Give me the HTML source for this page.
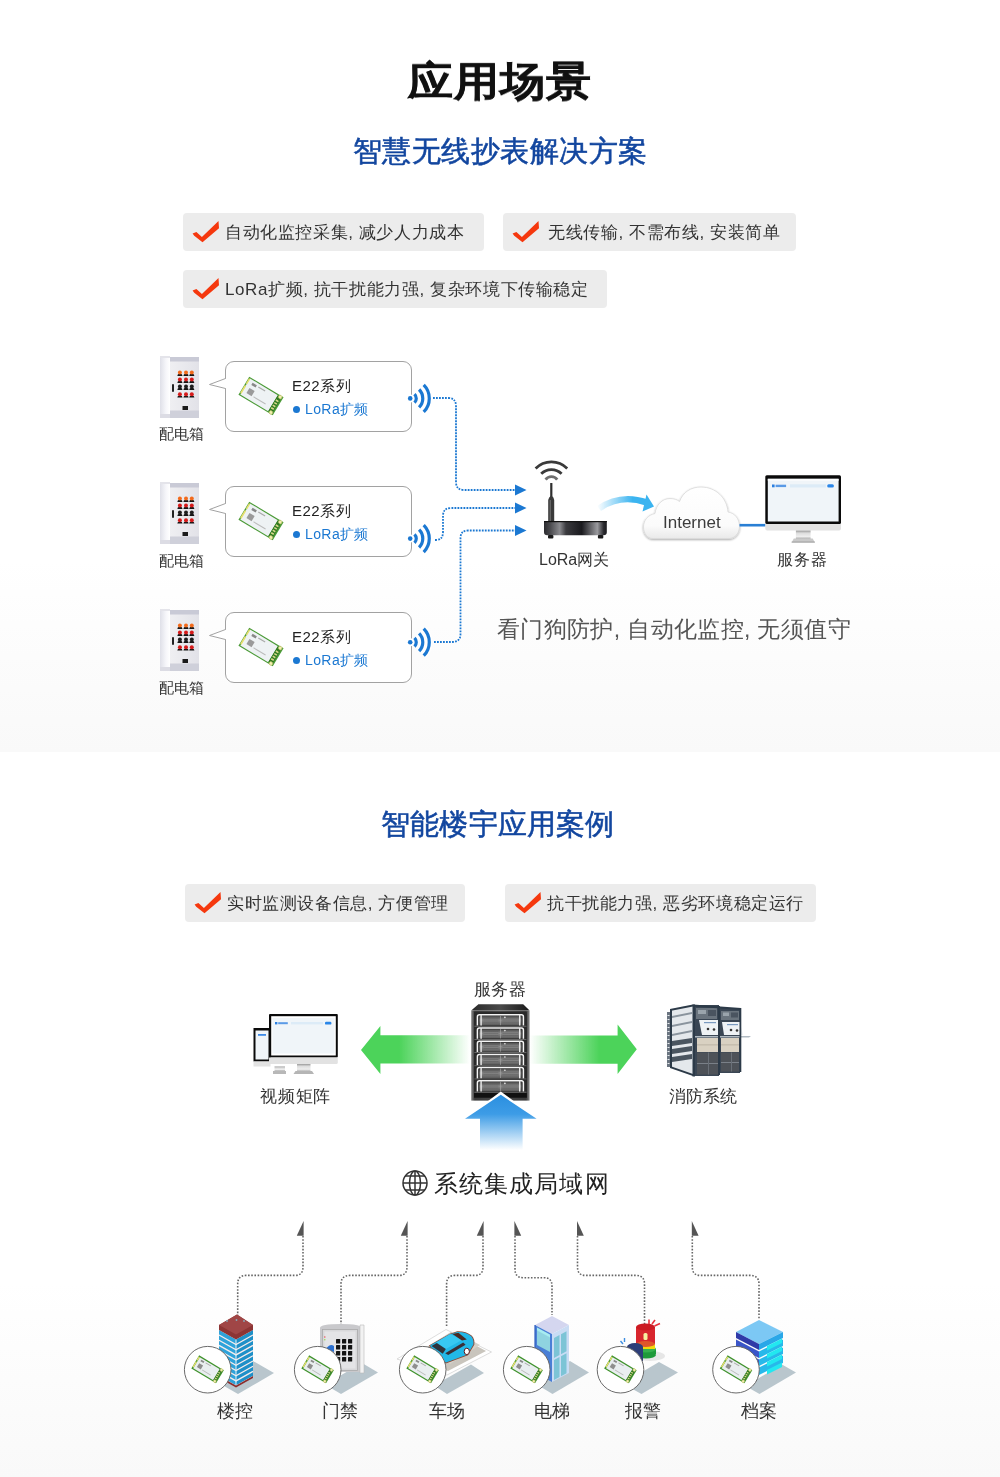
<!DOCTYPE html>
<html><head><meta charset="utf-8">
<style>
html,body{margin:0;padding:0;}
body{width:1000px;height:1477px;position:relative;overflow:hidden;background:#fff;font-family:"Liberation Sans",sans-serif;}
.bg1{position:absolute;left:0;top:0;width:1000px;height:752px;background:linear-gradient(to bottom,#fff 0,#fff 560px,#f9f9f9 752px);}
.bg2{position:absolute;left:0;top:752px;width:1000px;height:725px;background:linear-gradient(to bottom,#fff 0,#fff 530px,#f9f9f9 725px);}
.t{position:absolute;white-space:nowrap;line-height:1;will-change:transform;}
.pill{position:absolute;height:38px;background:#ececec;border-radius:4px;}
.pill svg{position:absolute;left:9px;top:8px;}
.pill span{will-change:transform;position:absolute;left:42px;top:11px;font-size:17px;letter-spacing:0.6px;line-height:17px;color:#333;white-space:nowrap;}
.bub{position:absolute;left:225px;width:185px;height:69px;border:1px solid #a2a2a2;border-radius:9px;background:#fff;}
svg.full{position:absolute;left:0;top:0;}
</style></head><body>
<div class="bg1"></div><div class="bg2"></div>

<div class="t" style="left:408px;top:61px;font-size:45px;letter-spacing:1px;transform:scaleY(0.9);transform-origin:0 0;font-weight:bold;color:#111;-webkit-text-stroke:0.5px #111;">应用场景</div>
<div class="t" style="left:353px;top:137px;font-size:29px;letter-spacing:0.45px;font-weight:normal;-webkit-text-stroke:0.55px #12469f;color:#12469f;">智慧无线抄表解决方案</div>

<div class="pill" style="left:183px;top:213px;width:301px;"><svg width="28" height="24" viewBox="0 0 28 24"><path d="M0.6 12.6 L4.4 11 L9.9 16 L26.5 0 L27 7.2 L10.5 21.2 L2.2 14.7 Z" fill="#f5380e"/></svg><span>自动化监控采集, 减少人力成本</span></div>
<div class="pill" style="left:503px;top:213px;width:293px;"><svg width="28" height="24" viewBox="0 0 28 24"><path d="M0.6 12.6 L4.4 11 L9.9 16 L26.5 0 L27 7.2 L10.5 21.2 L2.2 14.7 Z" fill="#f5380e"/></svg><span style="left:45px">无线传输, 不需布线, 安装简单</span></div>
<div class="pill" style="left:183px;top:270px;width:424px;"><svg width="28" height="24" viewBox="0 0 28 24"><path d="M0.6 12.6 L4.4 11 L9.9 16 L26.5 0 L27 7.2 L10.5 21.2 L2.2 14.7 Z" fill="#f5380e"/></svg><span>LoRa扩频, 抗干扰能力强, 复杂环境下传输稳定</span></div>

<div class="t" style="left:381px;top:810px;font-size:29px;letter-spacing:0.2px;font-weight:normal;-webkit-text-stroke:0.55px #12469f;color:#12469f;">智能楼宇应用案例</div>
<div class="pill" style="left:185px;top:884px;width:280px;"><svg width="28" height="24" viewBox="0 0 28 24"><path d="M0.6 12.6 L4.4 11 L9.9 16 L26.5 0 L27 7.2 L10.5 21.2 L2.2 14.7 Z" fill="#f5380e"/></svg><span>实时监测设备信息, 方便管理</span></div>
<div class="pill" style="left:505px;top:884px;width:311px;"><svg width="28" height="24" viewBox="0 0 28 24"><path d="M0.6 12.6 L4.4 11 L9.9 16 L26.5 0 L27 7.2 L10.5 21.2 L2.2 14.7 Z" fill="#f5380e"/></svg><span>抗干扰能力强, 恶劣环境稳定运行</span></div>

<div class="bub" style="top:361px;"></div>
<div class="bub" style="top:486px;"></div>
<div class="bub" style="top:612px;"></div>

<svg class="full" width="1000" height="1477" viewBox="0 0 1000 1477">
<defs>
  <linearGradient id="cabL" x1="0" x2="1"><stop offset="0" stop-color="#dfe0e8"/><stop offset="0.6" stop-color="#f6f6fa"/><stop offset="1" stop-color="#ffffff"/></linearGradient>
  <linearGradient id="cabF" x1="0" x2="1"><stop offset="0" stop-color="#efeff2"/><stop offset="1" stop-color="#e2e2e8"/></linearGradient>
  <g id="cab">
    <rect x="0" y="0" width="10" height="62" fill="url(#cabL)"/>
    <rect x="10" y="1" width="29" height="61" fill="url(#cabF)"/>
    <rect x="10" y="1" width="29" height="4.5" fill="#c9cad6"/>
    <rect x="0" y="0" width="10" height="2" fill="#e4e4ea"/>
    <rect x="10" y="54.5" width="29" height="7.5" fill="#cfd0da"/>
    <rect x="0" y="58" width="10" height="4" fill="#dcdce4"/>
    <g fill="#151515"><path d="M17.3 20.0 Q17.3 17.8 19.9 17.8 Q22.5 17.8 22.5 20.0 Z"/><path d="M23.4 20.0 Q23.4 17.8 26.0 17.8 Q28.6 17.8 28.6 20.0 Z"/><path d="M29.2 20.0 Q29.2 17.8 31.8 17.8 Q34.4 17.8 34.4 20.0 Z"/><path d="M17.3 27.0 Q17.3 24.8 19.9 24.8 Q22.5 24.8 22.5 27.0 Z"/><path d="M23.4 27.0 Q23.4 24.8 26.0 24.8 Q28.6 24.8 28.6 27.0 Z"/><path d="M29.2 27.0 Q29.2 24.8 31.8 24.8 Q34.4 24.8 34.4 27.0 Z"/><path d="M17.3 34.0 Q17.3 31.8 19.9 31.8 Q22.5 31.8 22.5 34.0 Z"/><path d="M23.4 34.0 Q23.4 31.8 26.0 31.8 Q28.6 31.8 28.6 34.0 Z"/><path d="M29.2 34.0 Q29.2 31.8 31.8 31.8 Q34.4 31.8 34.4 34.0 Z"/><path d="M17.3 41.6 Q17.3 39.4 19.9 39.4 Q22.5 39.4 22.5 41.6 Z"/><path d="M23.4 41.6 Q23.4 39.4 26.0 39.4 Q28.6 39.4 28.6 41.6 Z"/><path d="M29.2 41.6 Q29.2 39.4 31.8 39.4 Q34.4 39.4 34.4 41.6 Z"/></g>
    <g fill="#f26a1b"><circle cx="19.9" cy="16.6" r="2"/><circle cx="26.0" cy="16.6" r="2"/><circle cx="31.8" cy="16.6" r="2"/></g><g fill="#d61a1a"><circle cx="19.9" cy="23.6" r="2"/><circle cx="26.0" cy="23.6" r="2"/><circle cx="31.8" cy="23.6" r="2"/></g><g fill="#1e1e1e"><circle cx="19.9" cy="30.6" r="2"/><circle cx="26.0" cy="30.6" r="2"/><circle cx="31.8" cy="30.6" r="2"/></g><g fill="#d61a1a"><circle cx="19.9" cy="38.2" r="2"/><circle cx="26.0" cy="38.2" r="2"/><circle cx="31.8" cy="38.2" r="2"/></g>
    <rect x="12" y="28" width="2" height="8" rx="1" fill="#222"/>
    <rect x="22.5" y="50" width="5.5" height="4" fill="#1a1a1a"/>
  </g>
  <g id="chip">
    <rect x="-20" y="-10.5" width="40" height="21" fill="#4a9a36"/>
    <rect x="-18.5" y="-9.4" width="32.5" height="18.8" fill="#eef2f4"/>
    <rect x="14" y="-9" width="4.5" height="18" fill="#2f7a22"/>
    <g fill="#d9d98a"><rect x="14.8" y="-5" width="3" height="1.6"/><rect x="14.8" y="-2" width="3" height="1.6"/><rect x="14.8" y="1" width="3" height="1.6"/><rect x="14.8" y="4" width="3" height="1.6"/></g>
    <circle cx="17" cy="-9" r="1.8" fill="#f0f0b0" stroke="#b8b860" stroke-width="0.6"/>
    <circle cx="17" cy="9" r="1.8" fill="#f0f0b0" stroke="#b8b860" stroke-width="0.6"/>
    <rect x="-19.5" y="-9" width="1.6" height="6" fill="#e8e070"/><rect x="-19.5" y="-1" width="1.6" height="9" fill="#e8e070"/>
    <rect x="-14" y="-1" width="6" height="6" fill="#9a9a9a"/>
    <rect x="-14" y="-7" width="5" height="2.5" fill="#888"/>
    <rect x="-7" y="-7" width="8" height="1.2" fill="#aaa"/>
    <rect x="-6" y="4" width="14" height="1" fill="#bbb"/>
  </g>
  <g id="wifi" fill="none" stroke-linecap="butt">
    <g stroke="#fff" stroke-width="6"><path d="M4.3 -4.3 A6.1 6.1 0 0 1 4.3 4.3"/><path d="M8.9 -8.9 A12.6 12.6 0 0 1 8.9 8.9"/><path d="M13.5 -13.5 A19.1 19.1 0 0 1 13.5 13.5"/></g>
    <circle cx="0" cy="0" r="4" fill="#fff" stroke="none"/>
    <circle cx="0" cy="0" r="2.3" fill="#1b78d2" stroke="none"/>
    <g stroke="#1b78d2" stroke-width="3.2"><path d="M4.3 -4.3 A6.1 6.1 0 0 1 4.3 4.3"/><path d="M8.9 -8.9 A12.6 12.6 0 0 1 8.9 8.9"/><path d="M13.5 -13.5 A19.1 19.1 0 0 1 13.5 13.5"/></g>
  </g>

  <linearGradient id="rtBody" x1="0" x2="1">
    <stop offset="0" stop-color="#2a2a2e"/><stop offset="0.1" stop-color="#4a4a4e"/><stop offset="0.25" stop-color="#8a8a8e"/><stop offset="0.35" stop-color="#3a3a3e"/><stop offset="0.6" stop-color="#1a1a1e"/><stop offset="0.85" stop-color="#9a9a9e"/><stop offset="0.95" stop-color="#2a2a2e"/><stop offset="1" stop-color="#1a1a1e"/>
  </linearGradient>
  <linearGradient id="arrBlue" x1="0" x2="1"><stop offset="0" stop-color="#3bb4f0" stop-opacity="0"/><stop offset="0.7" stop-color="#3bb4f0" stop-opacity="1"/></linearGradient>
  <linearGradient id="cloudF" x1="0" y1="0" x2="0" y2="1"><stop offset="0" stop-color="#ffffff"/><stop offset="0.75" stop-color="#fbfbfb"/><stop offset="1" stop-color="#e9e9e9"/></linearGradient>
  <linearGradient id="standG" x1="0" y1="0" x2="0" y2="1"><stop offset="0" stop-color="#999"/><stop offset="0.3" stop-color="#ddd"/><stop offset="0.7" stop-color="#eee"/><stop offset="1" stop-color="#aaa"/></linearGradient>
  <filter id="cshadow" x="-20%" y="-20%" width="140%" height="150%"><feGaussianBlur in="SourceAlpha" stdDeviation="1.2"/><feOffset dy="1.2"/><feComponentTransfer><feFuncA type="linear" slope="0.35"/></feComponentTransfer><feMerge><feMergeNode/><feMergeNode in="SourceGraphic"/></feMerge></filter>
  <g id="mon">
    <rect x="0" y="0" width="75.7" height="48.6" rx="1.5" fill="#0a0a0a"/>
    <rect x="2.5" y="3.5" width="70.8" height="42.7" fill="#f0f5f9"/>
    <rect x="2.5" y="3.5" width="70.8" height="2" fill="#fafcfd"/>
    <rect x="6.7" y="9.2" width="2.6" height="2.8" fill="#2a7fe0"/><rect x="10.3" y="9.4" width="10.5" height="2.4" fill="#5a9ae6"/>
    <rect x="24.7" y="9" width="35.8" height="3.2" fill="#dcebf7"/>
    <rect x="61.9" y="9" width="6.7" height="3.2" rx="1.5" fill="#2a86e8"/>
    <path d="M0 48.6 H75.7 V53.5 Q75.7 55.3 73.9 55.3 H1.8 Q0 55.3 0 53.5 Z" fill="#e2e2e2"/>
    <rect x="30.6" y="55.3" width="14.7" height="8.4" fill="url(#standG)"/>
    <path d="M28.5 63.3 H47.4 L49.6 67.1 H26.3 Z" fill="#c9c9c9"/>
    <rect x="26.3" y="66.3" width="23.3" height="0.9" fill="#9a9a9a"/>
  </g>
</defs>

<!-- cabinets -->
<use href="#cab" x="160" y="356"/>
<use href="#cab" x="160" y="482"/>
<use href="#cab" x="160" y="609"/>

<!-- bubble tails -->
<g fill="#fff" stroke="#a2a2a2" stroke-width="1">
  <path d="M225.5 378.5 L209.5 384.5 L225.5 388.5"/>
  <path d="M225.5 503.5 L209.5 509.5 L225.5 513.5"/>
  <path d="M225.5 629.5 L209.5 635.5 L225.5 639.5"/>
</g>
<g fill="#fff"><rect x="225" y="379" width="2" height="9"/><rect x="225" y="504" width="2" height="9"/><rect x="225" y="630" width="2" height="9"/></g>

<!-- chips -->
<use href="#chip" transform="translate(261 396) rotate(31)"/>
<use href="#chip" transform="translate(261 521) rotate(31)"/>
<use href="#chip" transform="translate(261 647) rotate(31)"/>

<!-- blue dots -->
<g fill="#1b78d2"><circle cx="296.5" cy="409.5" r="3.5"/><circle cx="296.5" cy="534.5" r="3.5"/><circle cx="296.5" cy="660.5" r="3.5"/></g>

<!-- wifi icons -->
<use href="#wifi" x="410.2" y="398.4"/>
<use href="#wifi" x="410.2" y="538.6"/>
<use href="#wifi" x="410.2" y="642.2"/>

<!-- dotted lines -->
<g fill="none" stroke="#1b78d2" stroke-width="1.8" stroke-dasharray="1.8 1.2">
  <path d="M433 398 H448 Q456 398 456 406 V482 Q456 490 464 490 H515"/>
  <path d="M435 540 H436 Q443 540 443 532 V516 Q443 508 451 508 H515"/>
  <path d="M434 642 H452 Q460.5 642 460.5 634 V538 Q460.5 530.5 468 530.5 H515"/>
</g>
<g fill="#1b78d2">
  <path d="M515 484.5 L526.5 490 L515 495.5 Z"/>
  <path d="M515 502.5 L526.5 508 L515 513.5 Z"/>
  <path d="M515 525 L526.5 530.5 L515 536 Z"/>
</g>

<!-- router -->
<g fill="none" stroke-linecap="butt">
  <path d="M535.6 468.4 A22.3 22.3 0 0 1 567.2 468.4" stroke="#3a3a3a" stroke-width="2.8"/>
  <path d="M541.2 473.8 A14.4 14.4 0 0 1 561.6 473.8" stroke="#3a3a3a" stroke-width="2.8"/>
  <path d="M545.6 479.6 A7.1 7.1 0 0 1 557.2 479.6" stroke="#6e6e6e" stroke-width="2.8"/>
</g>
<rect x="550.2" y="483" width="2.2" height="16" fill="#2e2e2e"/>
<path d="M548.2 500 Q548.6 497 551.3 495.5 Q554 497 554.2 500 V521.5 H548.2 Z" fill="#3a3a3a"/>
<rect x="549.6" y="500" width="1.3" height="21" fill="#6a6a6a"/>
<path d="M544 521 H606.8 V532 Q606.8 535.2 603.6 535.2 H547.2 Q544 535.2 544 532 Z" fill="url(#rtBody)"/>
<rect x="544" y="521" width="62.8" height="1.2" fill="#111"/>
<rect x="548" y="535" width="5.4" height="3.6" rx="1" fill="#1a1a1a"/>
<rect x="597.9" y="535" width="5.4" height="3.6" rx="1" fill="#1a1a1a"/>

<!-- blue curved arrow -->
<path d="M597 506 Q620 490 648 499.5 L645.5 505.5 Q621 497 601 511 Z" fill="url(#arrBlue)"/>
<path d="M646.5 494.5 L654 506.5 L642.5 511.5 Z" fill="#3bb4f0"/>

<!-- cloud -->
<g filter="url(#cshadow)">
<path d="M653 538.5 C647 538.5 643.5 533 643.5 527 C643.5 520 648 515 655 513.5 C656 505 662 498.5 670 498.5 C674 498.5 677 499.5 679.5 501.5 C683 492 691 487 701 487 C716 487 727 498 728 512 C735 513 739.5 519 739.5 526.5 C739.5 533 735 538.5 729 538.5 Z" fill="url(#cloudF)" stroke="#d9d9d9" stroke-width="0.8"/>
</g>
<rect x="739.5" y="523.9" width="26" height="2.6" fill="#2a7fd4"/>
<use href="#mon" x="765.3" y="475.3"/>
</svg>

<div class="t" style="left:159px;top:426px;font-size:15px;color:#333;">配电箱</div>
<div class="t" style="left:159px;top:553px;font-size:15px;color:#333;">配电箱</div>
<div class="t" style="left:159px;top:680px;font-size:15px;color:#333;">配电箱</div>
<div class="t" style="left:292px;top:378px;font-size:15px;letter-spacing:0.5px;color:#222;">E22系列</div>
<div class="t" style="left:292px;top:503px;font-size:15px;letter-spacing:0.5px;color:#222;">E22系列</div>
<div class="t" style="left:292px;top:629px;font-size:15px;letter-spacing:0.5px;color:#222;">E22系列</div>
<div class="t" style="left:305px;top:402px;font-size:14px;letter-spacing:0.4px;color:#1b78d2;">LoRa扩频</div>
<div class="t" style="left:305px;top:527px;font-size:14px;letter-spacing:0.4px;color:#1b78d2;">LoRa扩频</div>
<div class="t" style="left:305px;top:653px;font-size:14px;letter-spacing:0.4px;color:#1b78d2;">LoRa扩频</div>

<div class="t" style="left:663px;top:514px;font-size:17px;color:#3c3c3c;">Internet</div>
<div class="t" style="left:539px;top:552px;font-size:16px;color:#333;">LoRa网关</div>
<div class="t" style="left:777px;top:552px;font-size:16px;letter-spacing:0.8px;color:#333;">服务器</div>
<div class="t" style="left:497px;top:618px;font-size:23px;letter-spacing:0.35px;color:#555;">看门狗防护, 自动化监控, 无须值守</div>

<svg class="full" width="1000" height="1477" viewBox="0 0 1000 1477">
<defs>
  <linearGradient id="grL" x1="0" x2="1"><stop offset="0" stop-color="#4cd35a"/><stop offset="0.35" stop-color="#4cd35a"/><stop offset="1" stop-color="#4cd35a" stop-opacity="0"/></linearGradient>
  <linearGradient id="grR" x1="0" x2="1"><stop offset="0" stop-color="#4cd35a" stop-opacity="0"/><stop offset="0.65" stop-color="#4cd35a"/><stop offset="1" stop-color="#4cd35a"/></linearGradient>
  <linearGradient id="blU" x1="0" y1="0" x2="0" y2="1"><stop offset="0" stop-color="#2a8fe0"/><stop offset="0.35" stop-color="#3d9ce6"/><stop offset="1" stop-color="#3d9ce6" stop-opacity="0"/></linearGradient>
  <linearGradient id="rackFrame" x1="0" x2="1"><stop offset="0" stop-color="#8a8a8a"/><stop offset="0.06" stop-color="#3a3a3a"/><stop offset="0.5" stop-color="#4a4a4a"/><stop offset="0.94" stop-color="#3a3a3a"/><stop offset="1" stop-color="#8a8a8a"/></linearGradient>
  <linearGradient id="rackTop" x1="0" x2="1"><stop offset="0" stop-color="#2a2a2a"/><stop offset="0.5" stop-color="#4a4a4a"/><stop offset="1" stop-color="#1a1a1a"/></linearGradient>
  <linearGradient id="driveG" x1="0" y1="0" x2="0" y2="1"><stop offset="0" stop-color="#4a4a4a"/><stop offset="0.45" stop-color="#8a8a8a"/><stop offset="1" stop-color="#5a5a5a"/></linearGradient>
  <g id="drive">
    <rect x="0" y="0" width="52" height="12.6" fill="#2a2a2a"/>
    <rect x="5" y="2.2" width="42" height="9.2" fill="url(#driveG)"/>
    <g fill="#5a5a5a"><rect x="9" y="4" width="15" height="0.5"/><rect x="9" y="6" width="15" height="0.5"/><rect x="9" y="8" width="15" height="0.5"/><rect x="28" y="6" width="16" height="0.5"/><rect x="28" y="8" width="16" height="0.5"/></g>
    <path d="M3 11.8 V3 Q3 1 5 1 H47 Q49 1 49 3 V11.8" fill="none" stroke="#f4f4f4" stroke-width="1.5"/>
    <rect x="6" y="1" width="1.4" height="10.8" fill="#eaeaea"/>
    <rect x="44.6" y="1" width="1.4" height="10.8" fill="#eaeaea"/>
    <rect x="25.8" y="2" width="0.6" height="9.4" fill="#aaa"/>
    <circle cx="30.5" cy="3.6" r="0.8" fill="#eee"/>
    <rect x="0" y="12" width="52" height="0.8" fill="#777"/>
  </g>
  <g id="chipS">
    <rect x="-14.4" y="-7.6" width="28.8" height="15.2" fill="#3f922c"/>
    <rect x="-12.9" y="-6.4" width="23.4" height="12.8" fill="#e9eef0"/>
    <rect x="10.3" y="-6.4" width="3" height="12.8" fill="#2f7a22"/>
    <g fill="#d9d98a"><rect x="10.8" y="-3.6" width="2" height="1.2"/><rect x="10.8" y="-1.4" width="2" height="1.2"/><rect x="10.8" y="0.8" width="2" height="1.2"/><rect x="10.8" y="3" width="2" height="1.2"/></g>
    <circle cx="12.3" cy="-6.5" r="1.4" fill="#f0f0b0" stroke="#b8b860" stroke-width="0.5"/>
    <circle cx="12.3" cy="6.5" r="1.4" fill="#f0f0b0" stroke="#b8b860" stroke-width="0.5"/>
    <rect x="-14.2" y="-6.4" width="1.3" height="4.2" fill="#e8e070"/><rect x="-14.2" y="-0.8" width="1.3" height="6.4" fill="#e8e070"/>
    <rect x="-10.3" y="-0.9" width="4.5" height="4.5" fill="#8e8e8e"/>
    <rect x="-10.3" y="-5" width="3.6" height="1.8" fill="#888"/>
    <rect x="-5" y="-5" width="6" height="0.9" fill="#aaa"/>
    <rect x="-4.4" y="3" width="10" height="0.8" fill="#bbb"/>
  </g>
  <g id="arrHeadR"><path d="M0 0 V14.8 H-6.8 Z" fill="#555"/></g>
  <g id="arrHeadL"><path d="M0 0 V14.8 H6.8 Z" fill="#555"/></g>
</defs>

<!-- video monitors -->
<rect x="253.5" y="1028" width="17" height="33.5" fill="#0a0a0a"/>
<rect x="255.5" y="1030.5" width="13" height="29" fill="#f0f5f9"/>
<rect x="258" y="1034" width="8" height="1.8" fill="#3d8ae8"/>
<rect x="253.5" y="1061.5" width="17" height="5" fill="#e2e2e2"/>
<rect x="274.5" y="1066.5" width="10.5" height="4.5" fill="url(#standG)"/>
<rect x="273" y="1071" width="13" height="3" fill="#b8b8b8"/>
<rect x="269" y="1014" width="68.8" height="43.5" rx="1" fill="#0a0a0a"/>
<rect x="271.2" y="1016.2" width="64.6" height="39.3" fill="#fff"/>
<rect x="272.5" y="1018" width="62" height="35.5" fill="#f0f5f9"/>
<rect x="275" y="1022" width="2.4" height="2.4" fill="#2a7fe0"/><rect x="278.2" y="1022.2" width="9.6" height="2" fill="#5a9ae6"/>
<rect x="291" y="1022" width="32" height="2.4" fill="#dcebf7"/>
<rect x="325" y="1021.8" width="6.4" height="2.8" rx="1.2" fill="#2a86e8"/>
<path d="M269 1057.5 H337.8 V1062.5 Q337.8 1064 336.3 1064 H270.5 Q269 1064 269 1062.5 Z" fill="#e2e2e2"/>
<rect x="297" y="1064" width="13.5" height="7.5" fill="url(#standG)"/>
<path d="M295.5 1071 H312 L314 1074 H293.5 Z" fill="#b5b5b5"/>

<!-- green arrows -->
<path d="M361 1050 L380.4 1026 V1035.3 H470 V1063.6 H380.4 V1074 Z" fill="url(#grL)"/>
<path d="M636.8 1049.2 L617.6 1024.4 V1035.6 H530 V1063.8 H617.6 V1074 Z" fill="url(#grR)"/>

<!-- server rack -->
<path d="M478.4 1004.2 H523.2 L529.6 1010.6 H471.2 Z" fill="url(#rackTop)"/>
<rect x="471.2" y="1010.6" width="58.4" height="90" fill="url(#rackFrame)"/>
<rect x="474" y="1012" width="52.8" height="86" fill="#2a2a2a"/>
<use href="#drive" x="474.4" y="1013.8"/>
<use href="#drive" x="474.4" y="1027"/>
<use href="#drive" x="474.4" y="1040.2"/>
<use href="#drive" x="474.4" y="1053.4"/>
<use href="#drive" x="474.4" y="1066.6"/>
<use href="#drive" x="474.4" y="1079.8"/>
<rect x="474" y="1093" width="52.8" height="4.5" fill="#111"/>

<!-- blue up arrow -->
<path d="M500.8 1091.5 L540.5 1121 H525.5 V1152 H477 V1121 H461 Z" fill="#fff"/>
<path d="M500.8 1094.8 L536.6 1118.8 H522.6 V1150 H480 V1118.8 H465 Z" fill="url(#blU)"/>

<!-- fire system rack -->
<g>
  <!-- left cable ladder -->
  <rect x="667" y="1012" width="3" height="55" fill="#6a7480"/>
  <g fill="#e8ecef"><rect x="667.5" y="1015" width="2" height="1"/><rect x="667.5" y="1019" width="2" height="1"/><rect x="667.5" y="1023" width="2" height="1"/><rect x="667.5" y="1027" width="2" height="1"/><rect x="667.5" y="1031" width="2" height="1"/><rect x="667.5" y="1035" width="2" height="1"/><rect x="667.5" y="1039" width="2" height="1"/><rect x="667.5" y="1043" width="2" height="1"/><rect x="667.5" y="1047" width="2" height="1"/><rect x="667.5" y="1051" width="2" height="1"/><rect x="667.5" y="1055" width="2" height="1"/><rect x="667.5" y="1059" width="2" height="1"/><rect x="667.5" y="1063" width="2" height="1"/></g>
  <!-- left side -->
  <path d="M670 1009 L693 1004.5 V1076 L670 1067 Z" fill="#e4e8ec"/>
  <g fill="#8a949e">
    <path d="M672 1016 L692 1012 V1014 L672 1018 Z"/><path d="M672 1025 L692 1021 V1023 L672 1027 Z"/><path d="M672 1034 L692 1030 V1032 L672 1036 Z"/>
  </g>
  <g fill="#4a5560">
    <path d="M672 1041 L692 1038 V1043 L672 1046 Z"/><path d="M672 1049 L692 1046 V1051 L672 1054 Z"/><path d="M672 1057 L692 1054 V1059 L672 1062 Z"/>
  </g>
  <g fill="#2c3a48">
    <path d="M670 1009 L693 1004.5 V1006.5 L670 1011 Z"/>
    <rect x="670" y="1009" width="2" height="58"/>
    <path d="M670 1066 L693 1074 V1076 L670 1068 Z"/>
  </g>
  <!-- front col 1 -->
  <rect x="693" y="1005" width="26" height="71" fill="#3a4654"/>
  <rect x="696" y="1008" width="21" height="11" fill="#6a747e"/>
  <rect x="698" y="1010" width="8" height="4" fill="#9aa4ac"/><rect x="708" y="1010" width="8" height="6" fill="#4a5460"/>
  <path d="M699 1020 H719 L722 1035 H702 Z" fill="#eef2f5"/>
  <rect x="704" y="1022" width="12" height="1.2" fill="#7a9ac0"/>
  <circle cx="708" cy="1029" r="1.3" fill="#333"/><circle cx="714" cy="1029.5" r="1.3" fill="#333"/>
  <rect x="697" y="1038" width="21" height="14" fill="#d9d1c2"/>
  <rect x="697" y="1044.5" width="21" height="0.8" fill="#b5ad9e"/>
  <rect x="697" y="1052.5" width="21" height="22" fill="#4e5258"/>
  <rect x="697" y="1063" width="21" height="1" fill="#7a8088"/><rect x="708" y="1052.5" width="1" height="22" fill="#6a7078"/>
  <!-- front col 2 -->
  <rect x="719" y="1008" width="21" height="65" fill="#3a4654"/>
  <rect x="721" y="1011" width="18" height="9" fill="#6a747e"/>
  <rect x="723" y="1012.5" width="6" height="3.5" fill="#9aa4ac"/><rect x="731" y="1012.5" width="7" height="5" fill="#4a5460"/>
  <path d="M722 1022 H740 L743 1035 H724 Z" fill="#eef2f5"/>
  <rect x="727" y="1024" width="11" height="1.2" fill="#7a9ac0"/>
  <circle cx="731" cy="1030" r="1.3" fill="#333"/><circle cx="737" cy="1030.5" r="1.3" fill="#333"/>
  <rect x="721" y="1038" width="18" height="14" fill="#d9d1c2"/>
  <rect x="721" y="1044.5" width="18" height="0.8" fill="#b5ad9e"/>
  <rect x="721" y="1052.5" width="18" height="19" fill="#4e5258"/>
  <rect x="721" y="1062" width="18" height="1" fill="#7a8088"/><rect x="731" y="1052.5" width="1" height="19" fill="#6a7078"/>
  <path d="M694 1036 H751 L749 1037.6 H694 Z" fill="#b0bac2"/>
  <g fill="#2c3a48"><rect x="692.5" y="1004.5" width="2.5" height="72"/><rect x="718" y="1006" width="2" height="69"/><rect x="739.5" y="1008" width="1.8" height="64"/>
  <path d="M693 1004.5 L741 1008 V1010 L693 1006.5 Z"/></g>
</g>
<!-- globe -->
<g fill="none" stroke="#333" stroke-width="1.5">
  <circle cx="415" cy="1183" r="12"/>
  <ellipse cx="415" cy="1183" rx="5.5" ry="12"/>
  <line x1="415" y1="1171" x2="415" y2="1195"/>
  <line x1="403" y1="1183" x2="427" y2="1183"/>
  <path d="M405 1176 H425 M405 1190 H425"/>
</g>

<!-- bottom dotted connectors -->
<g fill="none" stroke="#666" stroke-width="1.6" stroke-dasharray="1.6 1.6">
  <path d="M303 1236 V1267 Q303 1275.4 295 1275.4 H246 Q237.7 1275.4 237.7 1284 V1315"/>
  <path d="M407 1236 V1267 Q407 1275.4 399 1275.4 H350 Q341 1275.4 341 1284 V1325"/>
  <path d="M483 1236 V1267 Q483 1275.4 475 1275.4 H455 Q446.6 1275.4 446.6 1284 V1327"/>
  <path d="M515 1236 V1269 Q515 1277.7 523 1277.7 H544 Q552 1277.7 552 1286 V1315"/>
  <path d="M577.5 1236 V1267 Q577.5 1275.4 585.5 1275.4 H636 Q644.5 1275.4 644.5 1284 V1328"/>
  <path d="M692.3 1236 V1267 Q692.3 1275.4 700.3 1275.4 H750 Q759 1275.4 759 1284 V1319"/>
</g>
<use href="#arrHeadR" x="303.6" y="1221"/>
<use href="#arrHeadR" x="407.6" y="1221"/>
<use href="#arrHeadR" x="483.6" y="1221"/>
<use href="#arrHeadL" x="514.4" y="1221"/>
<use href="#arrHeadL" x="577" y="1221"/>
<use href="#arrHeadL" x="691.8" y="1221"/>

<!-- shadows -->
<g fill="#b9c6cd">
  <path d="M253 1361 L274 1373 L238 1394 L217 1382 Z"/>
  <path d="M362 1363 L378 1372.5 L341 1394 L325 1384.5 Z"/>
  <path d="M471 1364.5 L484 1373 L447 1394 L434 1385.5 Z"/>
  <path d="M570 1361 L589 1372.5 L552.5 1394 L533.5 1382.5 Z"/>
  <path d="M659 1362 L678 1372.5 L641.5 1394 L622.5 1383.5 Z"/>
  <path d="M782 1364.5 L796 1372.5 L759.5 1394 L745.5 1386 Z"/>
</g>
<!-- building -->
<g>
  <path d="M219 1330 L236 1339.5 V1385.5 L219 1376 Z" fill="#2ea3da"/>
  <path d="M236 1339.5 L253 1330 V1376 L236 1385.5 Z" fill="#1e90c8"/>
  <g fill="none" stroke="#f6ecec" stroke-width="1.3"><path d="M219 1335.0 L236 1344.5 L253 1335.0"/><path d="M219 1340.2 L236 1349.7 L253 1340.2"/><path d="M219 1345.4 L236 1354.9 L253 1345.4"/><path d="M219 1350.6 L236 1360.1 L253 1350.6"/><path d="M219 1355.8 L236 1365.3 L253 1355.8"/><path d="M219 1361.0 L236 1370.5 L253 1361.0"/><path d="M219 1366.2 L236 1375.7 L253 1366.2"/><path d="M219 1371.4 L236 1380.9 L253 1371.4"/><path d="M219 1376.6 L236 1386.1 L253 1376.6"/></g>
  <path d="M236 1339.5 V1385.5" stroke="#e8f4fa" stroke-width="1"/>
  <path d="M219 1376 L236 1385.5 L253 1376 V1378 L236 1387.5 L219 1378 Z" fill="#8b2e2e"/>
  <path d="M237 1314.5 L253 1325 V1330 L236 1339.5 L219 1330 V1325 Z" fill="#8c3434"/>
  <path d="M237 1314.5 L253 1325 L236 1334.5 L219 1325 Z" fill="#a04646"/>
  <circle cx="227" cy="1321" r="0.9" fill="#8ab"/><circle cx="236.5" cy="1320" r="0.9" fill="#8ab"/><circle cx="244" cy="1321" r="0.9" fill="#8ab"/>
</g>

<!-- keypad -->
<g>
  <path d="M320 1328 Q320 1324 341 1324 Q361 1324 361 1328 V1372 H320 Z" fill="#c9c9cc"/>
  <rect x="322.5" y="1329.5" width="35" height="41" fill="#d8d8da" stroke="#aaa" stroke-width="0.8"/>
  <rect x="324.5" y="1331.5" width="31" height="37" fill="#e4e4e6"/>
  <path d="M360 1325 H364 V1373 H360 Z" fill="#f2f2f2" stroke="#bbb" stroke-width="0.6"/>
  <g fill="#141414">
    <rect x="336" y="1339" width="4.2" height="4.6" rx="0.6"/><rect x="342" y="1339" width="4.2" height="4.6" rx="0.6"/><rect x="348" y="1339" width="4.2" height="4.6" rx="0.6"/>
    <rect x="336" y="1345" width="4.2" height="4.6" rx="0.6"/><rect x="342" y="1345" width="4.2" height="4.6" rx="0.6"/><rect x="348" y="1345" width="4.2" height="4.6" rx="0.6"/>
    <rect x="336" y="1351" width="4.2" height="4.6" rx="0.6"/><rect x="342" y="1351" width="4.2" height="4.6" rx="0.6"/><rect x="348" y="1351" width="4.2" height="4.6" rx="0.6"/>
    <rect x="336" y="1357" width="4.2" height="4.6" rx="0.6"/><rect x="342" y="1357" width="4.2" height="4.6" rx="0.6"/><rect x="348" y="1357" width="4.2" height="4.6" rx="0.6"/>
  </g>
  <circle cx="324.8" cy="1337" r="0.8" fill="#e55"/><circle cx="324.8" cy="1339.8" r="0.8" fill="#9d5"/>
  <path d="M326 1349 Q330 1343 334 1346 V1352 Z" fill="#2a6fd0"/>
</g>
<!-- parking -->
<g>
  <path d="M446 1329.5 L491.5 1352 L447 1375 L397 1359 Z" fill="#fff" stroke="#cfcfcf" stroke-width="0.7"/>
  <path d="M451 1332 L486 1351 L448 1371 L412 1356 Z" fill="#c9c5bd"/>
  <path d="M456 1332 L480 1345 L450 1364 L428 1350 Z" fill="#d5d1c9"/>
  <path d="M429 1345.4 L436.2 1341.5 L450 1333.8 L457.2 1331.3 Q466 1331 471.6 1335.6 Q475 1339 474.3 1344.8 L468 1355.2 L445.8 1363.6 Q441 1361 439 1356 L432 1350 Z" fill="#8a4a38"/>
  <path d="M430 1345.4 L436.2 1342 L450 1334.4 L457.2 1332 Q465.5 1331.7 471 1336 Q474 1339.4 473.4 1344.6 L467.5 1354.5 L446 1362.6 Q442 1360.5 440 1356 L433 1350 Z" fill="#22b8e8"/>
  <path d="M436.2 1342.4 L450 1334 L462 1340 L445.8 1349 Z" fill="#38c8f2"/>
  <path d="M431.5 1346 L436.8 1343 L445.8 1349 L442.8 1353.8 Z" fill="#30343c"/>
  <path d="M452.4 1334 L458.4 1332.8 L466.8 1339.4 L462 1340.6 Z" fill="#4a2a24"/>
  <path d="M445.2 1353.2 L463.2 1342.4 L465.6 1344.8 L448.2 1355 Z" fill="#3a3038"/>
  <ellipse cx="466.8" cy="1351.4" rx="2.6" ry="3.2" fill="#fff" stroke="#5a1a1a" stroke-width="1"/>
</g>
<!-- elevator -->
<g>
  <path d="M535 1325 L552 1316 L569 1325 L552 1334 Z" fill="#d4d6ef"/>
  <path d="M535 1325 L552 1334 V1382 L535 1373 Z" fill="#4a7fd6"/>
  <path d="M537 1330 L550 1337 V1352 L537 1345 Z" fill="#8fd3e0"/>
  <path d="M537 1327.5 L550 1334.5 V1337.5 L537 1330.5 Z" fill="#a8ecf0"/>
  <path d="M552 1334 L569 1325 V1373 L552 1382 Z" fill="#c9dcf4"/>
  <path d="M554 1338 L559.5 1335 V1355 L554 1358 Z" fill="#7cc4d6"/>
  <path d="M561 1334.2 L566.5 1331.2 V1351.2 L561 1354.2 Z" fill="#7cc4d6"/>
  <path d="M554 1360 L559.5 1357 V1377 L554 1380 Z" fill="#7cc4d6"/>
  <path d="M561 1356.2 L566.5 1353.2 V1373.2 L561 1376.2 Z" fill="#7cc4d6"/>
  <path d="M535 1325 V1373" stroke="#2f5fc0" stroke-width="1.2"/>
</g>

<!-- alarm -->
<g>
  <ellipse cx="650" cy="1356" rx="15" ry="5" fill="#e6e6e6"/>
  <ellipse cx="646" cy="1355" rx="10" ry="3.5" fill="#1e9a3a"/>
  <rect x="636" y="1349" width="20" height="5" fill="#1e9a3a"/>
  <ellipse cx="646" cy="1349" rx="10" ry="3.5" fill="#35b04e"/>
  <rect x="637" y="1344" width="18" height="5" fill="#f2d90a"/>
  <ellipse cx="646" cy="1344" rx="9" ry="3" fill="#f8e82a"/>
  <rect x="636" y="1327" width="19" height="17" fill="#d8262e"/>
  <ellipse cx="645.5" cy="1344" rx="9.5" ry="3" fill="#e0562a"/>
  <ellipse cx="645.5" cy="1327" rx="9.5" ry="3.5" fill="#cc1a22"/>
  <rect x="643.5" y="1333" width="4" height="7" rx="1.5" fill="#f8f0a0"/>
  <g stroke="#e8303a" stroke-width="1.6"><path d="M649 1324 V1319.5"/><path d="M652 1324 L655 1320"/><path d="M654.5 1326 L660 1323.5"/></g>
  <ellipse cx="635" cy="1347" rx="8" ry="4" fill="#2d3e78"/>
  <rect x="627" y="1347" width="16" height="14" fill="#2d3e78"/>
  <g stroke="#3d8ee0" stroke-width="1.4"><path d="M620.5 1341 L623 1344"/><path d="M624.5 1338 V1342"/></g>
</g>

<!-- archive server stack -->
<g>
  <path d="M736 1332 L759 1320 L783 1332 L759 1344 Z" fill="#7cc8f4"/>
  <path d="M736 1332 L759 1344 V1350 L736 1338 Z" fill="#2f3aa8"/>
  <path d="M759 1344 L783 1332 V1338 L759 1350 Z" fill="#2aa7e8"/>
  <path d="M736 1339.5 L759 1351.5 V1358 L736 1346 Z" fill="#3a55c8"/>
  <path d="M759 1351.5 L783 1339.5 V1346 L759 1358 Z" fill="#28b8ea"/>
  <path d="M736 1347.5 L759 1359.5 V1366 L736 1354 Z" fill="#3a55c8"/>
  <path d="M759 1359.5 L783 1347.5 V1354 L759 1366 Z" fill="#28b8ea"/>
  <path d="M736 1355.5 L759 1367.5 V1375 L736 1363 Z" fill="#3a55c8"/>
  <path d="M759 1367.5 L783 1355.5 V1363 L759 1375 Z" fill="#28b8ea"/>
  <g fill="#22e8f0"><path d="M767 1346 L782 1338.5 V1343 L767 1350.5 Z"/><path d="M767 1354 L782 1346.5 V1351 L767 1358.5 Z"/><path d="M767 1362 L782 1354.5 V1359 L767 1366.5 Z"/><path d="M767 1370 L782 1362.5 V1367 L767 1374.5 Z"/></g>
</g>

<!-- circles with chips -->
<g fill="#fff" stroke="#6a6a6a" stroke-width="1">
  <circle cx="207.7" cy="1369.7" r="23.3"/>
  <circle cx="317.7" cy="1369.7" r="23.3"/>
  <circle cx="422.7" cy="1369.7" r="23.3"/>
  <circle cx="526.7" cy="1369.7" r="23.3"/>
  <circle cx="620.5" cy="1369.7" r="23.3"/>
  <circle cx="736" cy="1369.7" r="23.3"/>
</g>
<use href="#chipS" transform="translate(207.6 1369.3) rotate(31)"/>
<use href="#chipS" transform="translate(317.6 1369.3) rotate(31)"/>
<use href="#chipS" transform="translate(422.6 1369.3) rotate(31)"/>
<use href="#chipS" transform="translate(526.6 1369.3) rotate(31)"/>
<use href="#chipS" transform="translate(620.4 1369.3) rotate(31)"/>
<use href="#chipS" transform="translate(736 1369.3) rotate(31)"/>
</svg>

<div class="t" style="left:474px;top:981px;font-size:17px;letter-spacing:0.4px;color:#333;">服务器</div>
<div class="t" style="left:260px;top:1088px;font-size:17px;letter-spacing:0.8px;color:#333;">视频矩阵</div>
<div class="t" style="left:669px;top:1088px;font-size:17px;color:#333;">消防系统</div>
<div class="t" style="left:434px;top:1172px;font-size:24px;letter-spacing:1.1px;color:#222;">系统集成局域网</div>
<div class="t" style="left:217px;top:1402px;font-size:18px;color:#333;">楼控</div>
<div class="t" style="left:322px;top:1402px;font-size:18px;color:#333;">门禁</div>
<div class="t" style="left:429px;top:1402px;font-size:18px;color:#333;">车场</div>
<div class="t" style="left:534px;top:1402px;font-size:18px;color:#333;">电梯</div>
<div class="t" style="left:625px;top:1402px;font-size:18px;color:#333;">报警</div>
<div class="t" style="left:741px;top:1402px;font-size:18px;color:#333;">档案</div>

</body></html>
